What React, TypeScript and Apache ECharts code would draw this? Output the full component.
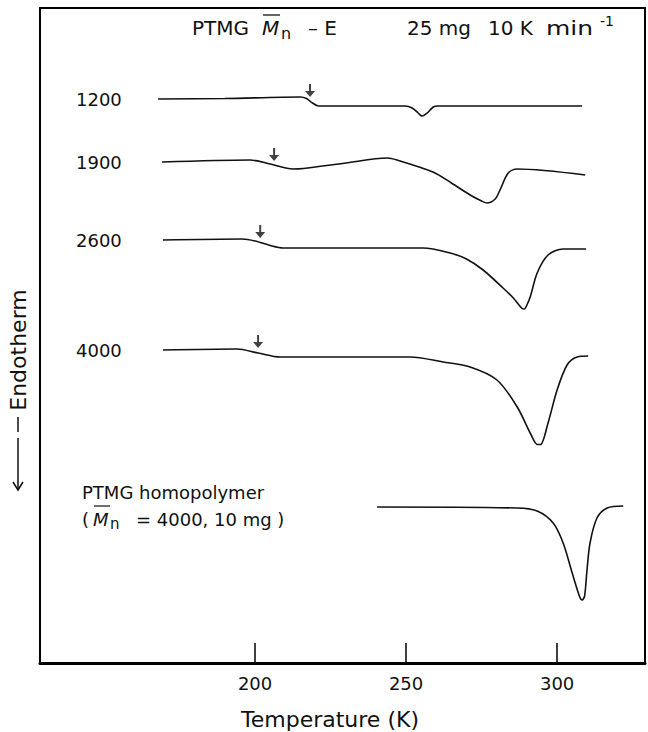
import React, { useEffect, useRef } from "react";
import * as echarts from "echarts";

// Temperature (K) vs heat-flow signal (arbitrary units, endotherm down)
const curve1200: [number, number][] = [
  [167.9, 112.8], [190, 112.9], [214.9, 113.2], [217, 112.9], [219, 112], [221, 111.4],
  [249.7, 111.4], [252, 111], [254, 110], [255.3, 109.4], [257, 110], [259, 111.2],
  [260.5, 111.4], [308.3, 111.4],
];
const curve1900: [number, number][] = [
  [169.2, 100.2], [198.3, 100.6], [205, 99.8], [212.6, 98.8], [216, 98.9], [230, 100],
  [243.7, 101], [247, 100.6], [258.9, 98.2], [265, 96], [271.2, 93.6], [275, 92.4],
  [276.8, 92], [279.5, 92.8], [281.1, 94.6], [283.8, 98], [286.8, 98.8], [309.3, 97.6],
];
const curve2600: [number, number][] = [
  [169.5, 84.6], [195.7, 84.8], [200, 84.4], [205, 83.5], [209.3, 83], [255.6, 83],
  [264.6, 82], [270, 80.8], [275.5, 78.6], [282.1, 75], [285.5, 73], [288.4, 70.9],
  [289.2, 70.8], [290, 71.6], [291.1, 73.2], [293.4, 78], [297, 81.6], [302, 82.8],
  [309.6, 82.8],
];
const curve4000: [number, number][] = [
  [169.5, 62.6], [194, 62.8], [201, 62], [208.3, 61.2], [251.3, 61.2], [262.3, 60.2],
  [271.2, 59.2], [280.1, 56.6], [286.8, 51.2], [291.1, 46], [293.5, 43.7], [294.5, 43.7],
  [297, 48], [300, 54.6], [303.3, 59.6], [306.6, 61.2], [310.3, 61.4],
];
const curveHomo: [number, number][] = [
  [240.4, 31.2], [286.8, 31], [293.4, 30.4], [298.7, 28], [302, 24], [305, 18],
  [307.5, 13.2], [308.3, 12.6], [309.1, 13.4], [309.9, 18.6], [310.9, 24], [313.2, 29],
  [316.6, 31], [321.9, 31.4],
];
// glass-transition arrows (temperature, signal at arrow tip)
const tgArrows: [number, number][] = [
  [218.2, 113.2], [206.3, 100.4], [201.7, 85], [201, 63],
];
const tickValues = [200, 250, 300];
const curveLabels = ["1200", "1900", "2600", "4000"];

const FONT = "DejaVu Sans";
const INK = "#111";

export default function App() {
  const ref = useRef<HTMLDivElement>(null);
  useEffect(() => {
    if (!ref.current) return;
    const chart = echarts.init(ref.current, undefined, { renderer: "svg" });
    const lineSeries = (data: [number, number][]) => ({
      type: "line",
      data,
      showSymbol: false,
      smooth: 0.3,
      lineStyle: { color: INK, width: 1.6 },
      silent: true,
    });
    const labelY = [99, 162, 240, 350];
    const txt = (x: number, y: number, text: string, extra: any = {}, size = 18) => ({
      type: "text",
      x,
      y,
      style: {
        text,
        fill: INK,
        font: `${size}px "${FONT}"`,
        textVerticalAlign: "middle",
        ...extra,
      },
    });
    const line = (x1: number, y1: number, x2: number, y2: number, w = 1.2) => ({
      type: "line",
      shape: { x1, y1, x2, y2 },
      style: { stroke: INK, lineWidth: w },
    });
    chart.setOption({
      animation: false,
      backgroundColor: "#fff",
      grid: { left: 40, right: 3, top: 8, bottom: 69, show: false },
      xAxis: {
        type: "value",
        min: 128.8,
        max: 329.1,
        axisLine: { show: true, lineStyle: { color: "#000", width: 3 } },
        axisTick: {
          show: true,
          customValues: tickValues,
          inside: true,
          length: 20,
          lineStyle: { color: "#000", width: 1.5 },
        },
        axisLabel: {
          customValues: tickValues,
          color: INK,
          fontSize: 18,
          fontFamily: FONT,
          margin: 11,
        },
        splitLine: { show: false },
      },
      yAxis: {
        type: "value",
        min: 0,
        max: 131,
        show: false,
        splitLine: { show: false },
      },
      series: [
        lineSeries(curve1200),
        lineSeries(curve1900),
        lineSeries(curve2600),
        lineSeries(curve4000),
        lineSeries(curveHomo),
        {
          type: "scatter",
          data: tgArrows,
          symbol: "path://M4,0L6,0L6,7L10,7L5,13L0,7L4,7Z",
          symbolSize: [10, 13],
          symbolOffset: [0, -6.5],
          itemStyle: { color: INK },
          silent: true,
        },
      ],
      graphic: [
        // frame
        {
          type: "rect",
          shape: { x: 40, y: 8, width: 605, height: 655 },
          style: { stroke: "#000", lineWidth: 2, fill: "none" },
          silent: true,
        },
        // title
        txt(192, 28, "PTMG", {}, 20),
        txt(262, 28, "M", { font: `italic 20px "${FONT}"` }),
        txt(281, 33, "n", {}, 16),
        line(263, 15, 280, 15, 1.3),
        txt(308, 28, "– E", {}, 20),
        txt(407, 28, "25 mg", {}, 20),
        txt(488, 28, "10 K", {}, 20),
        { ...txt(546, 28, "min", {}, 20), scaleX: 1.25 },
        txt(600, 21, "-1", {}, 14),
        // curve labels
        ...curveLabels.map((s, i) => txt(76, labelY[i], s)),
        txt(82, 492, "PTMG homopolymer"),
        txt(82, 519, "("),
        txt(93, 519, "M", { font: `italic 18px "${FONT}"` }),
        txt(110, 524, "n", {}, 15),
        line(94, 506, 110, 506, 1.2),
        txt(136, 519, "= 4000, 10 mg )"),
        // axis name
        {
          type: "text",
          x: 330,
          y: 719,
          style: {
            text: "Temperature (K)",
            fill: INK,
            font: `22px "${FONT}"`,
            textAlign: "center",
            textVerticalAlign: "middle",
          },
        },
        // y label
        {
          type: "text",
          x: 18,
          y: 350,
          rotation: Math.PI / 2,
          style: {
            text: "Endotherm",
            fill: INK,
            font: `22px "${FONT}"`,
            textAlign: "center",
            textVerticalAlign: "middle",
          },
        },
        line(18, 417, 18, 432, 1.5),
        line(18, 438, 18, 490, 1.5),
        {
          type: "polyline",
          shape: { points: [[13, 482], [18, 490], [23, 482]] },
          style: { stroke: INK, lineWidth: 1.5, fill: "none" },
        },
      ],
    });
    return () => chart.dispose();
  }, []);
  return (
    <div
      ref={ref}
      style={{ position: "fixed", left: 0, top: 0, width: 648, height: 732 }}
    />
  );
}
